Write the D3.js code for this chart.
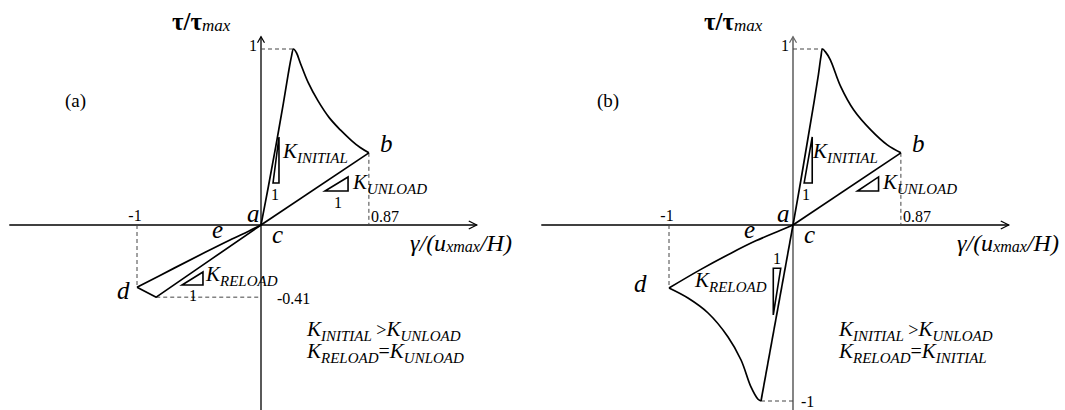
<!DOCTYPE html>
<html><head><meta charset="utf-8">
<script src="https://cdn.jsdelivr.net/npm/d3@7"></script>
<style>
body{margin:0;background:#fff}
svg{display:block}
</style>
</head><body>
<svg id="chart" width="1065" height="410"></svg>
<script>
// ---------------- DATA ----------------
const panelNames = ["(a)", "(b)"];
const tickLabelsA = ["1", "0.87", "-1", "-0.41"];
const tickValuesA = [1, 0.87, -1, -0.41];
const tickLabelsB = ["1", "0.87", "-1", "-1"];
const tickValuesB = [1, 0.87, -1, -1];
const pointLetters = ["a", "b", "c", "d", "e"];
const notesA = [["INITIAL", " >", "UNLOAD"], ["RELOAD", "=", "UNLOAD"]];
const notesB = [["INITIAL", " >", "UNLOAD"], ["RELOAD", "=", "INITIAL"]];

// panel (a): loading + softening envelope (origin -> peak -> b)
const envAX = [0, 0.06, 0.12, 0.18, 0.22, 0.245, 0.262, 0.285, 0.32, 0.38, 0.46, 0.55, 0.64, 0.73, 0.80, 0.87];
const envAY = [0, 0.22, 0.45, 0.69, 0.86, 0.955, 1.0, 0.98, 0.915, 0.81, 0.705, 0.61, 0.54, 0.48, 0.44, 0.41];
// unloading b -> c
const unloadAX = [0.87, 0];
const unloadAY = [0.41, 0];
// continuation c -> e -> d
const negAX = [0, -0.1, -0.25, -0.45, -0.7, -1.0];
const negAY = [0, -0.035, -0.085, -0.155, -0.245, -0.354];
// d -> lowest point -> reload to origin
const reloadAX = [-1.0, -0.845, -0.4, 0];
const reloadAY = [-0.354, -0.41, -0.194, 0];

// panel (b)
const envBX = [0, 0.06, 0.12, 0.17, 0.205, 0.225, 0.238, 0.26, 0.30, 0.385, 0.49, 0.627, 0.76, 0.87];
const envBY = [0, 0.24, 0.49, 0.70, 0.855, 0.955, 1.0, 0.985, 0.94, 0.786, 0.653, 0.54, 0.455, 0.41];
const unloadBX = [0.87, 0];
const unloadBY = [0.41, 0];
const negBX = [0, -0.1, -0.3, -0.5, -0.75, -1.0];
const negBY = [0, -0.03, -0.09, -0.16, -0.255, -0.358];
const softBX = [-1.0, -0.847, -0.685, -0.524, -0.419, -0.339, -0.282, -0.258];
const softBY = [-0.358, -0.415, -0.5, -0.636, -0.767, -0.92, -0.99, -1.0];
const reloadBX = [-0.258, 0];
const reloadBY = [-1.0, 0];

// ---------------- DRAW ----------------
const FONT = '"Liberation Serif"';
const svg = d3.select("#chart");
const zip = (xs, ys) => xs.map((x, i) => [x, ys[i]]);
const txt = (sel, x, y) => sel.append("text").attr("x", x).attr("y", y)
  .style("font-family", FONT).attr("fill", "#000");

function panel(cfg) {
  const g = svg.append("g");
  const x = d3.scaleLinear().domain([-1, 1]).range([cfg.ox - 124, cfg.ox + 124]);
  const y = d3.scaleLinear().domain([-1, 1]).range([225 + 176, 225 - 176]);
  const X0 = x(0), Y0 = y(0);

  // axes
  g.append("line").attr("x1", x(-2.03)).attr("x2", x(1.74)).attr("y1", Y0).attr("y2", Y0)
    .attr("stroke", "#000").attr("stroke-width", 1.3);
  g.append("polyline").attr("points", `${x(1.74)-8},${Y0-4} ${x(1.74)},${Y0} ${x(1.74)-8},${Y0+4}`)
    .attr("fill", "none").attr("stroke", "#000").attr("stroke-width", 1.2);
  g.append("line").attr("x1", X0).attr("x2", X0).attr("y1", y(1.07)).attr("y2", 410)
    .attr("stroke", cfg.yAxisColor).attr("stroke-width", cfg.yAxisWidth);
  g.append("polyline").attr("points", `${X0-3.5},${y(1.07)+6} ${X0},${y(1.07)} ${X0+3.5},${y(1.07)+6}`)
    .attr("fill", "none").attr("stroke", cfg.yAxisColor).attr("stroke-width", 1.2);

  // dashed guides
  const dash = (x1, y1, x2, y2) => g.append("line")
    .attr("x1", x(x1)).attr("y1", y(y1)).attr("x2", x(x2)).attr("y2", y(y2))
    .attr("stroke", "#444").attr("stroke-width", 1).attr("stroke-dasharray", "4,3");
  cfg.dashes.forEach(d => dash(...d));

  // curves
  const smooth = d3.line().x(d => x(d[0])).y(d => y(d[1])).curve(d3.curveCatmullRom.alpha(0.5));
  const straight = d3.line().x(d => x(d[0])).y(d => y(d[1]));
  cfg.smooth.forEach(p => g.append("path").attr("d", smooth(p)).attr("fill", "none")
    .attr("stroke", "#000").attr("stroke-width", 1.7).attr("stroke-linejoin", "round"));
  cfg.straight.forEach(p => g.append("path").attr("d", straight(p)).attr("fill", "none")
    .attr("stroke", "#000").attr("stroke-width", 1.7).attr("stroke-linejoin", "round"));

  // stiffness triangles
  cfg.triangles.forEach(t => g.append("path")
    .attr("d", straight(t) + "Z").attr("fill", "none").attr("stroke", "#000").attr("stroke-width", 1.6));

  // tick labels
  cfg.ticks.forEach(t => txt(g, t.px, t.py)
    .attr("text-anchor", t.anchor || "start").attr("font-size", 16).text(t.label));

  // point letters
  cfg.letters.forEach(l => txt(g, l.px, l.py)
    .attr("font-size", 25).attr("font-style", "italic").text(l.t));

  // K labels
  const K = (px, py, sub) => {
    const t = txt(g, px, py).attr("font-style", "italic");
    t.append("tspan").attr("font-size", 21).text("K");
    t.append("tspan").attr("font-size", 15).attr("dy", 5).text(sub);
  };
  cfg.kLabels.forEach(k => K(k.px, k.py, k.sub));
  cfg.ones.forEach(o => txt(g, o.px, o.py)
    .attr("text-anchor", "middle").attr("font-size", 16).text("1"));

  // notes
  cfg.notes.forEach((n, i) => {
    const t = txt(g, X0 + 46, 336 + i * 22).attr("font-style", "italic");
    t.append("tspan").attr("font-size", 21).text("K");
    t.append("tspan").attr("font-size", 15).attr("dy", 5).text(n[0]);
    t.append("tspan").attr("font-size", n[1] === "=" ? 20 : 18).attr("font-style", "normal").attr("dy", -5).text(n[1]);
    t.append("tspan").attr("font-size", 21).text("K");
    t.append("tspan").attr("font-size", 15).attr("dy", 5).text(n[2]);
  });

  // panel name
  txt(g, cfg.ox - 196, 107).attr("font-size", 19).text(cfg.name);

  // y title tau/tau_max
  const tt = txt(g, cfg.ox - 89, 30);
  tt.append("tspan").attr("font-size", 25).attr("font-weight", "bold").text("τ/τ");
  tt.append("tspan").attr("font-size", 17).attr("font-style", "italic").attr("dy", 1).text("max");

  // x title
  const xt = txt(g, cfg.xTitleX, 251).attr("font-style", "italic");
  xt.append("tspan").attr("font-size", 24).text("γ/(u");
  xt.append("tspan").attr("font-size", 16).attr("dy", 1).text("xmax");
  xt.append("tspan").attr("font-size", 24).attr("dy", -1).text("/H)");

  return {x, y};
}

// ---- panel (a)
(function () {
  const ox = 261;
  const x = d3.scaleLinear().domain([-1, 1]).range([ox - 124, ox + 124]);
  const y = d3.scaleLinear().domain([-1, 1]).range([401, 49]);
  panel({
    name: panelNames[0], ox, yAxisColor: "#000", yAxisWidth: 1.3, xTitleX: 410,
    dashes: [[0, 1, 0.262, 1], [0.87, 0.41, 0.87, 0], [-1, 0, -1, -0.354], [-0.845, -0.41, 0, -0.41]],
    smooth: [zip(envAX, envAY), zip(negAX, negAY)],
    straight: [zip(unloadAX, unloadAY), zip(reloadAX, reloadAY)],
    triangles: [
      [[0.097, 0.239], [0.145, 0.239], [0.145, 0.5]],
      [[0.516, 0.193], [0.702, 0.193], [0.702, 0.273]],
      [[-0.637, -0.341], [-0.468, -0.341], [-0.468, -0.267]]
    ],
    ticks: [
      {label: tickLabelsA[0], px: x(0) - 4, py: y(tickValuesA[0]) + 2, anchor: "end"},
      {label: tickLabelsA[1], px: x(tickValuesA[1]) + 2, py: 222},
      {label: tickLabelsA[2], px: x(tickValuesA[2]) - 2, py: 221, anchor: "middle"},
      {label: tickLabelsA[3], px: x(0) + 16, py: y(tickValuesA[3]) + 7}
    ],
    letters: [
      {t: pointLetters[0], px: 247, py: 222}, {t: pointLetters[1], px: 380, py: 152},
      {t: pointLetters[2], px: 272, py: 243}, {t: pointLetters[3], px: 117, py: 299},
      {t: pointLetters[4], px: 212, py: 238}
    ],
    kLabels: [{px: 283, py: 158, sub: "INITIAL"}, {px: 353, py: 189, sub: "UNLOAD"}, {px: 206, py: 281, sub: "RELOAD"}],
    ones: [{px: 275, py: 200}, {px: 338, py: 208}, {px: 193, py: 301}],
    notes: notesA
  });
})();

// ---- panel (b)
(function () {
  const ox = 793;
  const x = d3.scaleLinear().domain([-1, 1]).range([ox - 124, ox + 124]);
  const y = d3.scaleLinear().domain([-1, 1]).range([401, 49]);
  panel({
    name: panelNames[1], ox, yAxisColor: "#666", yAxisWidth: 1.6, xTitleX: 957,
    dashes: [[0, 1, 0.238, 1], [0.87, 0.41, 0.87, 0], [-1, 0, -1, -0.358], [-0.258, -1, 0, -1]],
    smooth: [zip(envBX, envBY), zip(negBX, negBY), zip(softBX, softBY)],
    straight: [zip(unloadBX, unloadBY), zip(reloadBX, reloadBY)],
    triangles: [
      [[0.09, 0.239], [0.155, 0.239], [0.155, 0.5]],
      [[0.52, 0.193], [0.69, 0.193], [0.69, 0.273]],
      [[-0.159, -0.246], [-0.099, -0.246], [-0.159, -0.511]]
    ],
    ticks: [
      {label: tickLabelsB[0], px: x(0) - 4, py: y(tickValuesB[0]) + 2, anchor: "end"},
      {label: tickLabelsB[1], px: x(tickValuesB[1]) + 2, py: 222},
      {label: tickLabelsB[2], px: x(tickValuesB[2]) - 2, py: 221, anchor: "middle"},
      {label: tickLabelsB[3], px: x(0) + 8, py: y(tickValuesB[3]) + 6}
    ],
    letters: [
      {t: pointLetters[0], px: 777, py: 222}, {t: pointLetters[1], px: 912, py: 152},
      {t: pointLetters[2], px: 804, py: 243}, {t: pointLetters[3], px: 634, py: 292},
      {t: pointLetters[4], px: 744, py: 238}
    ],
    kLabels: [{px: 813, py: 158, sub: "INITIAL"}, {px: 883, py: 189, sub: "UNLOAD"}, {px: 695, py: 287, sub: "RELOAD"}],
    ones: [{px: 806, py: 200}, {px: 777, py: 264}],
    notes: notesB
  });
})();
</script>
</body></html>
